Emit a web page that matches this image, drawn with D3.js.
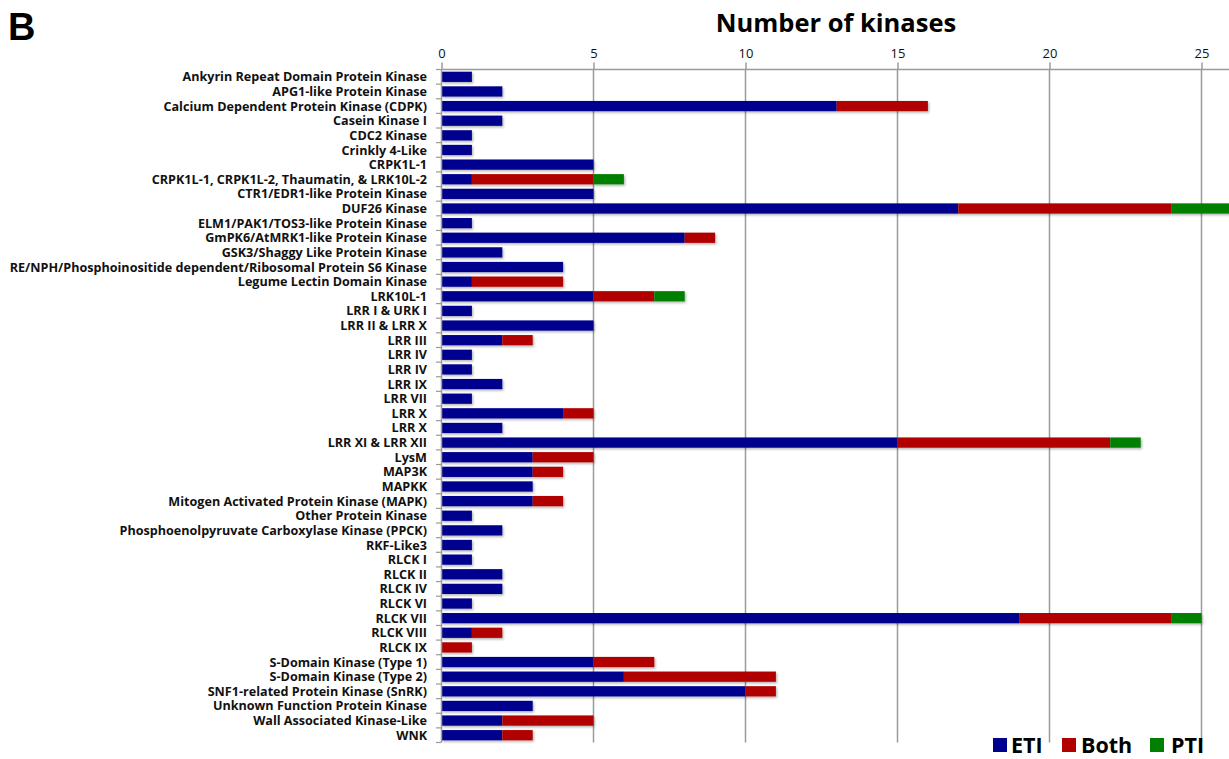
<!DOCTYPE html>
<html>
<head>
<meta charset="utf-8">
<script src="https://cdn.jsdelivr.net/npm/d3@7"></script>
<style>
  html, body { margin: 0; padding: 0; background: #fff; }
  svg { display: block; }
  text { font-family: "Open Sans", Lato, sans-serif; }
</style>
</head>
<body>
<svg id="chart" width="1229" height="759"></svg>
<script>
// Kinase families
const categories = [
  "Ankyrin Repeat Domain Protein Kinase",
  "APG1-like Protein Kinase",
  "Calcium Dependent Protein Kinase (CDPK)",
  "Casein Kinase I",
  "CDC2 Kinase",
  "Crinkly 4-Like",
  "CRPK1L-1",
  "CRPK1L-1, CRPK1L-2, Thaumatin, & LRK10L-2",
  "CTR1/EDR1-like Protein Kinase",
  "DUF26 Kinase",
  "ELM1/PAK1/TOS3-like Protein Kinase",
  "GmPK6/AtMRK1-like Protein Kinase",
  "GSK3/Shaggy Like Protein Kinase",
  "RE/NPH/Phosphoinositide dependent/Ribosomal Protein S6 Kinase",
  "Legume Lectin Domain Kinase",
  "LRK10L-1",
  "LRR I & URK I",
  "LRR II & LRR X",
  "LRR III",
  "LRR IV",
  "LRR IV",
  "LRR IX",
  "LRR VII",
  "LRR X",
  "LRR X",
  "LRR XI & LRR XII",
  "LysM",
  "MAP3K",
  "MAPKK",
  "Mitogen Activated Protein Kinase (MAPK)",
  "Other Protein Kinase",
  "Phosphoenolpyruvate Carboxylase Kinase (PPCK)",
  "RKF-Like3",
  "RLCK I",
  "RLCK II",
  "RLCK IV",
  "RLCK VI",
  "RLCK VII",
  "RLCK VIII",
  "RLCK IX",
  "S-Domain Kinase (Type 1)",
  "S-Domain Kinase (Type 2)",
  "SNF1-related Protein Kinase (SnRK)",
  "Unknown Function Protein Kinase",
  "Wall Associated Kinase-Like",
  "WNK"
];

// Number of kinases per response class
const eti  = [1,2,13,2,1,1,5,1,5,17,1,8,2,4,1,5,1,5,2,1,1,2,1,4,2,15,3,3,3,3,1,2,1,1,2,2,1,19,1,0,5,6,10,3,2,2];
const both = [0,0,3,0,0,0,0,4,0,7,0,1,0,0,3,2,0,0,1,0,0,0,0,1,0,7,2,1,0,1,0,0,0,0,0,0,0,5,1,1,2,5,1,0,3,1];
const pti  = [0,0,0,0,0,0,0,1,0,2,0,0,0,0,0,1,0,0,0,0,0,0,0,0,0,1,0,0,0,0,0,0,0,0,0,0,0,1,0,0,0,0,0,0,0,0];

const seriesNames = ["ETI", "Both", "PTI"];
const xTicks = [0, 5, 10, 15, 20, 25];
const colors = { ETI: "#00008f", Both: "#b10000", PTI: "#007f00" };

const rows = categories.map((c, i) => ({ key: i, name: c, ETI: eti[i], Both: both[i], PTI: pti[i] }));

const svg = d3.select("#chart");
const plotLeft = 441, plotTop = 69.5, plotBottom = 742.5;

const x = d3.scaleLinear().domain([0, 26]).range([plotLeft, plotLeft + 26 * 30.4]);
const y = d3.scaleBand().domain(rows.map(r => r.key)).range([plotTop, plotBottom]).paddingInner(0.3).paddingOuter(0.15);

// soft shadow under bars
const defs = svg.append("defs");
const f = defs.append("filter").attr("id", "shadow").attr("x", "-5%").attr("y", "-30%").attr("width", "110%").attr("height", "170%");
f.append("feDropShadow").attr("dx", 1.2).attr("dy", 1.5).attr("stdDeviation", 0.9)
  .attr("flood-color", "#000").attr("flood-opacity", 0.3);

// vertical gridlines
svg.append("g").selectAll("line").data(xTicks.filter(t => t > 0)).join("line")
  .attr("x1", d => x(d) + 0.5).attr("x2", d => x(d) + 0.5)
  .attr("y1", plotTop).attr("y2", plotBottom)
  .attr("stroke", "#9a9a9a").attr("stroke-width", 1.5);

// top axis
const xAxis = d3.axisTop(x).tickValues(xTicks).tickSize(7).tickPadding(5);
const gx = svg.append("g").attr("transform", `translate(0.5,${plotTop})`).call(xAxis);
gx.select(".domain").attr("stroke", "#9a9a9a").attr("stroke-width", 1.5)
  .attr("d", `M${plotLeft},0H1229`);
gx.selectAll(".tick line").attr("stroke", "#9a9a9a").attr("stroke-width", 1.5);
gx.selectAll(".tick text").attr("font-size", 13).attr("fill", "#111")
  .style("font-family", "'Open Sans', sans-serif");

// stacked bars
const stack = d3.stack().keys(seriesNames);
const layers = stack(rows);
svg.append("g").attr("filter", "url(#shadow)").selectAll("g").data(layers).join("g")
  .attr("fill", d => colors[d.key])
  .selectAll("rect").data(d => d).join("rect")
  .attr("x", d => x(d[0]) + 0.5)
  .attr("width", d => Math.max(0, x(d[1]) - x(d[0])))
  .attr("y", (d, i) => y(rows[i].key))
  .attr("height", y.bandwidth());

// left axis with category ticks
const band = (plotBottom - plotTop) / rows.length;
const gy = svg.append("g");
gy.append("line").attr("x1", plotLeft + 0.5).attr("x2", plotLeft + 0.5).attr("y1", plotTop).attr("y2", plotBottom)
  .attr("stroke", "#9a9a9a").attr("stroke-width", 1.5);
gy.selectAll("line.tk").data(d3.range(rows.length + 1)).join("line").attr("class", "tk")
  .attr("x1", plotLeft - 5).attr("x2", plotLeft)
  .attr("y1", i => plotTop + i * band).attr("y2", i => plotTop + i * band)
  .attr("stroke", "#9a9a9a").attr("stroke-width", 1.2);

svg.append("g").selectAll("text").data(rows).join("text")
  .attr("x", 427).attr("y", d => y(d.key) + y.bandwidth() / 2)
  .attr("dy", "0.36em").attr("text-anchor", "end")
  .attr("font-size", 12.6).attr("font-weight", 700).attr("fill", "#111")
  .text(d => d.name);

// title and panel letter
svg.append("text").attr("x", 836).attr("y", 32).attr("text-anchor", "middle")
  .attr("font-size", 25.5).attr("font-weight", 700).attr("fill", "#000").text("Number of kinases");
svg.append("text").attr("x", 8).attr("y", 40)
  .attr("font-size", 38).attr("font-weight", 700).attr("fill", "#000")
  .style("font-family", "'Liberation Sans', Arial, sans-serif").text("B");

// legend
const legendPos = [{ k: "ETI", sx: 993, tx: 1011 }, { k: "Both", sx: 1062, tx: 1081 }, { k: "PTI", sx: 1150, tx: 1171 }];
const lg = svg.append("g");
lg.selectAll("rect").data(legendPos).join("rect")
  .attr("x", d => d.sx).attr("y", 738).attr("width", 14).attr("height", 14)
  .attr("fill", d => colors[d.k]);
lg.selectAll("text").data(legendPos).join("text")
  .attr("x", d => d.tx).attr("y", 753).attr("font-size", 21.5).attr("font-weight", 700)
  .attr("fill", "#000").text(d => d.k);
</script>
</body>
</html>
